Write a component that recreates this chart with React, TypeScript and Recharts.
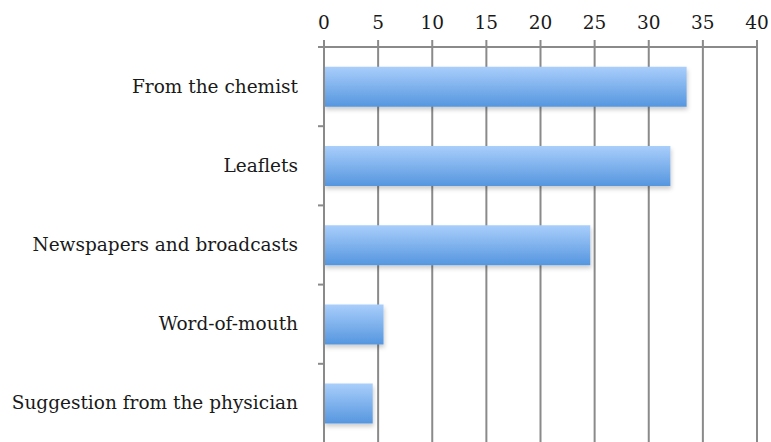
import { BarChart, Bar, XAxis, YAxis, CartesianGrid } from 'recharts';

const CATEGORIES = [
  'From the chemist',
  'Leaflets',
  'Newspapers and broadcasts',
  'Word-of-mouth',
  'Suggestion from the physician',
];
const VALUES = [33.5, 32, 24.6, 5.5, 4.5];
const X_TICKS = [0, 5, 10, 15, 20, 25, 30, 35, 40];

const data = CATEGORIES.map((name, i) => ({ name, value: VALUES[i] }));

const FONT = '"DejaVu Serif", serif';
const GRID = '#8a8a8a';
const TICK_SIZE = 6;
const TICK_MARGIN = 20;

const CategoryTick = (props: any) => {
  const { x, y, payload } = props;
  const axisX = x + TICK_SIZE + TICK_MARGIN;
  const top = y - (payload.offset ?? 0);
  return (
    <g>
      <line x1={axisX - TICK_SIZE} x2={axisX} y1={top} y2={top} stroke={GRID} strokeWidth={2} />
      <text x={x} y={y} dy={6} textAnchor="end" fill="#1a1a1a" fontSize={18.5} fontFamily={FONT}>
        {payload.value}
      </text>
    </g>
  );
};

export default function App() {
  return (
    <div style={{ position: 'fixed', left: 0, top: 0, background: '#fff' }}>
      <BarChart
        width={771}
        height={442}
        data={data}
        layout="vertical"
        margin={{ top: 0, right: 14, bottom: -1, left: 0 }}
        barCategoryGap="25%"
      >
        <defs>
          <linearGradient id="barFill" x1="0" y1="0" x2="0" y2="1">
            <stop offset="0%" stopColor="#a9cefb" />
            <stop offset="100%" stopColor="#5596df" />
          </linearGradient>
          <filter id="barShadow" x="-5%" y="-20%" width="115%" height="160%">
            <feDropShadow dx="1" dy="3" stdDeviation="2" floodColor="#000" floodOpacity="0.2" />
          </filter>
        </defs>
        <CartesianGrid horizontal={false} stroke={GRID} strokeWidth={2} />
        <XAxis
          type="number"
          orientation="top"
          domain={[0, 40]}
          ticks={X_TICKS}
          interval={0}
          height={47}
          tickSize={7}
          tickMargin={11}
          stroke={GRID}
          strokeWidth={2}
          tick={{ fill: '#1a1a1a', fontSize: 18.5, fontFamily: FONT }}
        />
        <YAxis
          type="category"
          dataKey="name"
          width={324}
          tickLine={false}
          tickSize={TICK_SIZE}
          tickMargin={TICK_MARGIN}
          stroke={GRID}
          strokeWidth={2}
          tick={<CategoryTick />}
        />
        <Bar dataKey="value" fill="url(#barFill)" filter="url(#barShadow)" isAnimationActive={false} />
      </BarChart>
    </div>
  );
}
